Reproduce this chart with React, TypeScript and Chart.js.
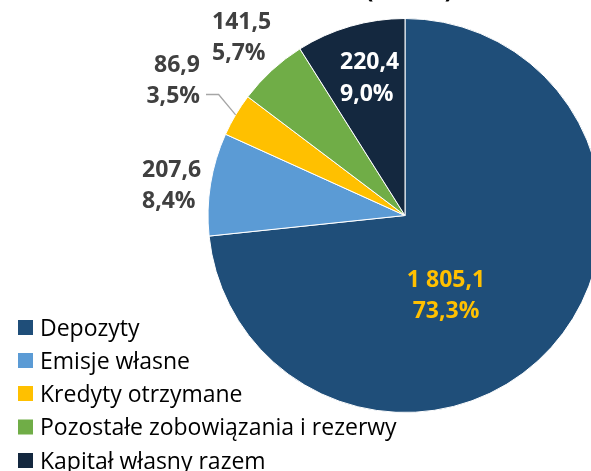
import React, { useEffect, useRef } from "react";
import { Chart, registerables } from "chart.js";

Chart.register(...registerables);

const CATEGORIES = [
  "Depozyty",
  "Emisje własne",
  "Kredyty otrzymane",
  "Pozostałe zobowiązania i rezerwy",
  "Kapitał własny razem",
];
const VALUES = [1805.1, 207.6, 86.9, 141.5, 220.4];
const COLORS = ["#1F4E79", "#5B9BD5", "#FFC000", "#70AD47", "#14283F"];
const TITLE = "(mld zł)";

// label layout relative to pie centre (style only)
const LABEL_STYLE = [
  { dx: 41, align: "center", dy1: 71, dy2: 102, color: "#FFC000" },
  { dx: -263, align: "left", dy1: -39, dy2: -8, color: "#404040" },
  { dx: -205, align: "right", dy1: -144, dy2: -113, color: "#404040" },
  { dx: -193, align: "left", dy1: -187, dy2: -156, color: "#404040" },
  { dx: -65, align: "left", dy1: -147, dy2: -115, color: "#FFFFFF" },
];

function fmtNum(v: number): string {
  const [i, d] = v.toFixed(1).split(".");
  const ii = i.replace(/\B(?=(\d{3})+(?!\d))/g, " ");
  return ii + "," + d;
}

const overlay = {
  id: "overlay",
  afterDatasetsDraw(chart: any) {
    const ctx = chart.ctx;
    const meta = chart.getDatasetMeta(0);
    const total = VALUES.reduce((a, b) => a + b, 0);
    const a0 = meta.data[0];
    const cx = a0.x;
    const cy = a0.y;
    ctx.save();
    // title (clipped at top)
    ctx.fillStyle = "#000";
    ctx.font = "bold 24px 'Open Sans'";
    ctx.textAlign = "center";
    ctx.textBaseline = "alphabetic";
    ctx.fillText(TITLE, 409, -2);

    // leader line for small slice
    const arcK = meta.data[2];
    const mid = (arcK.startAngle + arcK.endAngle) / 2;
    const ex = cx + Math.cos(mid) * arcK.outerRadius;
    const ey = cy + Math.sin(mid) * arcK.outerRadius;
    const ly = cy + LABEL_STYLE[2].dy2 - 8;
    ctx.strokeStyle = "#A6A6A6";
    ctx.lineWidth = 1.3;
    ctx.beginPath();
    ctx.moveTo(cx + LABEL_STYLE[2].dx + 6, ly);
    ctx.lineTo(ex - 17, ly);
    ctx.lineTo(ex, ey);
    ctx.stroke();

    // data labels
    ctx.font = "bold 23px 'Open Sans'";
    VALUES.forEach((v, i) => {
      const s = LABEL_STYLE[i];
      ctx.fillStyle = s.color;
      ctx.textAlign = s.align as CanvasTextAlign;
      ctx.fillText(fmtNum(v), cx + s.dx, cy + s.dy1);
      ctx.fillText(fmtNum((v / total) * 100) + "%", cx + s.dx, cy + s.dy2);
    });

    // legend
    ctx.font = "23px 'Open Sans'";
    ctx.textAlign = "left";
    const rows = [327.5, 360.5, 393.5, 427, 460.5];
    CATEGORIES.forEach((c, i) => {
      ctx.fillStyle = COLORS[i];
      ctx.fillRect(18, rows[i] - 7.5, 15, 15);
      ctx.fillStyle = "#000";
      ctx.fillText(c, 40, rows[i] + 8);
    });
    ctx.restore();
  },
};

export default function App() {
  const ref = useRef<HTMLCanvasElement>(null);
  useEffect(() => {
    if (!ref.current) return;
    const chart = new Chart(ref.current, {
      type: "pie",
      data: {
        labels: CATEGORIES,
        datasets: [
          {
            data: VALUES,
            backgroundColor: COLORS,
            borderColor: "#FFFFFF",
            borderWidth: 1,
          },
        ],
      },
      options: {
        responsive: false,
        animation: false,
        devicePixelRatio: 1,
        layout: { padding: { left: 207, right: 17, top: 18, bottom: 58 } },
        plugins: {
          legend: { display: false },
          tooltip: { enabled: false },
          title: { display: false },
        },
      },
      plugins: [overlay],
    });
    return () => chart.destroy();
  }, []);
  return (
    <div
      style={{
        position: "absolute",
        left: 0,
        top: 0,
        width: 591,
        height: 471,
        overflow: "hidden",
        background: "#fff",
      }}
    >
      <canvas ref={ref} width={620} height={471} style={{ width: 620, height: 471 }} />
    </div>
  );
}
